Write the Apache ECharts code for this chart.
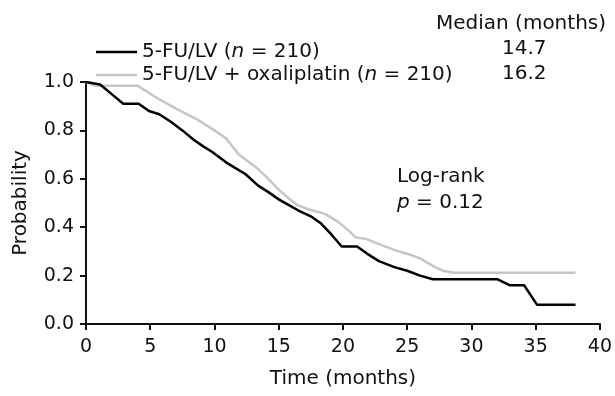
<!DOCTYPE html>
<html>
<head>
<meta charset="utf-8">
<script src="https://cdn.jsdelivr.net/npm/echarts@6/dist/echarts.min.js"></script>
<style>
  html, body { margin: 0; padding: 0; background: #fff; }
  #chart { width: 615px; height: 396px; }
</style>
</head>
<body>
<div id="chart"></div>
<script>
// survival curves (time in months, probability)
const fuTime = [0, 1.1, 2.0, 2.9, 4.1, 4.9, 5.7, 6.6, 7.5, 8.4, 9.1, 9.8, 10.9, 11.6, 12.4, 13.4, 14.2, 15.0, 16.0, 16.5, 17.5, 18.3, 19.1, 19.9, 21.1, 21.9, 22.8, 24.0, 25.0, 26.0, 27.0, 32.0, 33.0, 34.1, 35.1, 38.1];
const fuProb = [1.0, 0.99, 0.95, 0.91, 0.91, 0.88, 0.867, 0.836, 0.80, 0.76, 0.735, 0.712, 0.668, 0.645, 0.62, 0.572, 0.545, 0.515, 0.485, 0.47, 0.445, 0.415, 0.37, 0.32, 0.32, 0.29, 0.26, 0.235, 0.22, 0.2, 0.185, 0.185, 0.16, 0.16, 0.08, 0.08];
const oxTime = [0, 0.7, 4.0, 5.5, 7.0, 8.5, 10.0, 10.9, 11.9, 12.9, 13.4, 14.0, 15.0, 16.0, 16.5, 17.5, 18.6, 19.6, 20.4, 21.0, 21.9, 23.0, 24.0, 25.3, 26.0, 27.1, 27.8, 28.6, 38.1];
const oxProb = [1.0, 0.985, 0.985, 0.935, 0.89, 0.85, 0.80, 0.767, 0.70, 0.66, 0.64, 0.61, 0.555, 0.51, 0.49, 0.471, 0.455, 0.423, 0.388, 0.358, 0.35, 0.326, 0.306, 0.285, 0.271, 0.237, 0.22, 0.212, 0.212];

const seriesNames = ['5-FU/LV', '5-FU/LV + oxaliplatin'];
const sizes = [210, 210];
const medians = ['14.7', '16.2'];
const colors = ['#000000', '#c6c6c6'];
const xTicks = [0, 40, 5];
const yTicks = [0, 1, 0.2];

const FONT = 'DejaVu Sans';

const chart = echarts.init(document.getElementById('chart'));

const pairs = (t, p) => t.map((v, i) => [v, p[i]]);

chart.setOption({
  animation: false,
  grid: { left: 86, right: 11, top: 82, bottom: 72 },
  legend: {
    orient: 'vertical',
    left: 91,
    top: 37,
    itemWidth: 41,
    itemHeight: 2.5,
    itemGap: 3,
    icon: 'rect',
    data: seriesNames,
    formatter: (name) => {
      const i = seriesNames.indexOf(name);
      return '{a|' + name + ' (}{i|n}{a| = ' + sizes[i] + ')}';
    },
    textStyle: {
      fontFamily: FONT,
      fontSize: 20,
      color: '#111',
      rich: {
        a: { fontFamily: FONT, fontSize: 20, color: '#111' },
        i: { fontFamily: FONT, fontSize: 20, color: '#111', fontStyle: 'italic' }
      }
    }
  },
  xAxis: {
    type: 'value',
    min: xTicks[0],
    max: xTicks[1],
    interval: xTicks[2],
    name: 'Time (months)',
    nameLocation: 'middle',
    nameGap: 45,
    nameTextStyle: { fontFamily: FONT, fontSize: 20, color: '#111' },
    axisLine: { lineStyle: { color: '#111', width: 2 } },
    axisTick: { length: 6, lineStyle: { color: '#111', width: 2 } },
    axisLabel: { fontFamily: FONT, fontSize: 19, color: '#111', margin: 14 },
    splitLine: { show: false }
  },
  yAxis: {
    type: 'value',
    min: yTicks[0],
    max: yTicks[1],
    interval: yTicks[2],
    name: 'Probability',
    nameLocation: 'middle',
    nameGap: 55,
    nameRotate: 90,
    nameTextStyle: { fontFamily: FONT, fontSize: 20, color: '#111' },
    axisLine: { show: true, lineStyle: { color: '#111', width: 2 } },
    axisTick: { show: true, length: 6, lineStyle: { color: '#111', width: 2 } },
    axisLabel: {
      fontFamily: FONT, fontSize: 19, color: '#111', margin: 12,
      formatter: (v) => v.toFixed(1)
    },
    splitLine: { show: false }
  },
  series: [
    {
      name: seriesNames[0],
      type: 'line',
      data: pairs(fuTime, fuProb),
      showSymbol: false,
      z: 3,
      itemStyle: { color: colors[0] },
      lineStyle: { color: colors[0], width: 2.5 }
    },
    {
      name: seriesNames[1],
      type: 'line',
      data: pairs(oxTime, oxProb),
      showSymbol: false,
      z: 2,
      itemStyle: { color: colors[1] },
      lineStyle: { color: colors[1], width: 2.5 }
    }
  ],
  graphic: [
    {
      type: 'text', left: 436, top: 14,
      style: { text: 'Median (months)', fontFamily: FONT, fontSize: 20, fill: '#111' }
    },
    {
      type: 'text', left: 502, top: 39,
      style: { text: medians[0], fontFamily: FONT, fontSize: 20, fill: '#111' }
    },
    {
      type: 'text', left: 502, top: 64,
      style: { text: medians[1], fontFamily: FONT, fontSize: 20, fill: '#111' }
    },
    {
      type: 'text', left: 397, top: 164,
      style: {
        text: 'Log-rank\n{i|p} = 0.12',
        fontFamily: FONT, fontSize: 20, fill: '#111', lineHeight: 26,
        rich: { i: { fontFamily: FONT, fontSize: 20, fontStyle: 'italic', fill: '#111' } }
      }
    }
  ]
});
</script>
</body>
</html>
